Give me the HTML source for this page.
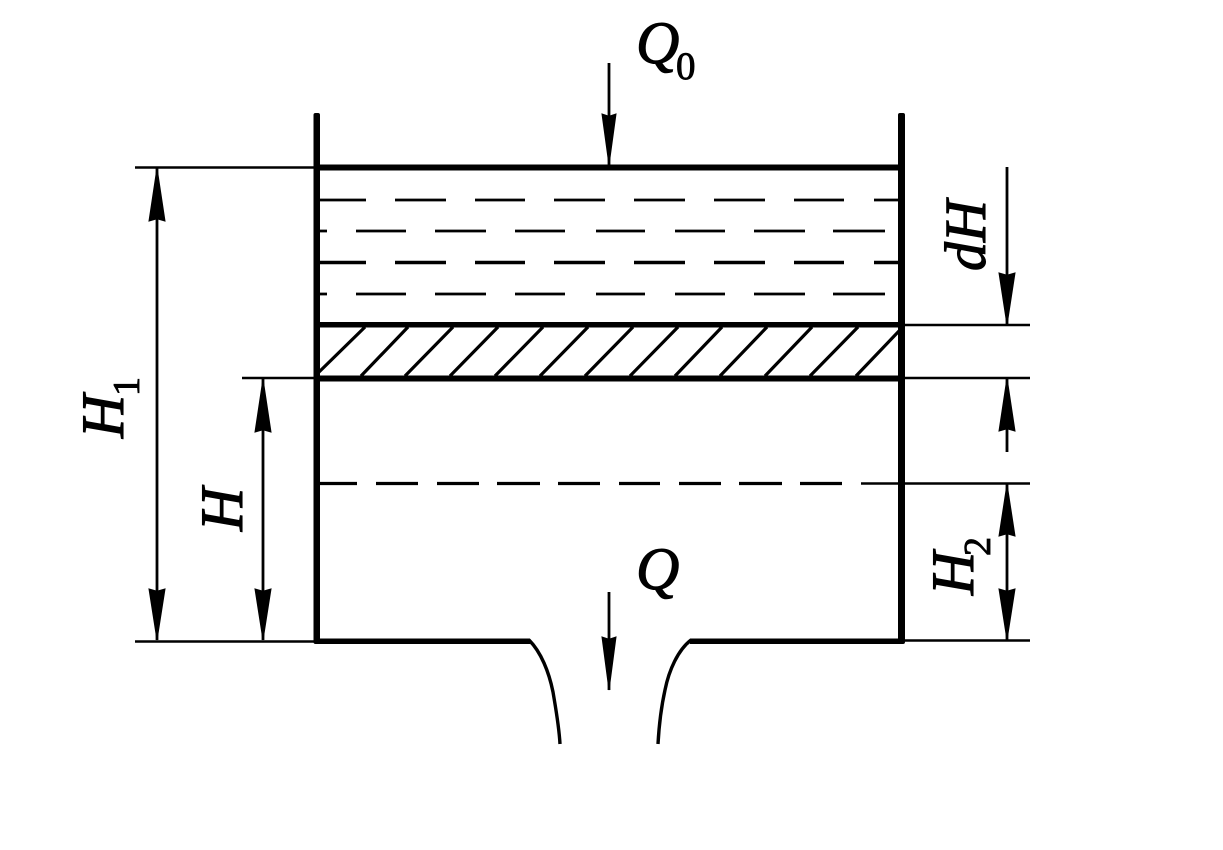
<!DOCTYPE html>
<html>
<head>
<meta charset="utf-8">
<style>
html,body{margin:0;padding:0;background:#fff;width:1223px;height:850px;overflow:hidden}
svg{display:block}
text{font-family:"Liberation Serif",serif;font-style:italic;fill:#000;stroke:#000;stroke-width:1.1px}
.n{font-style:normal;stroke-width:0.9px}
</style>
</head>
<body>
<svg width="1223" height="850" viewBox="0 0 1223 850" xmlns="http://www.w3.org/2000/svg">
<rect width="1223" height="850" fill="#fff"/>

<!-- extension lines -->
<g stroke="#000" stroke-width="2.6" fill="none">
<path d="M135 167.5H316M242 378H316M135 641.5H316"/>
<path d="M905 325H1030M905 378H1030M905 640.5H1030M861 483.5H1030"/>
</g>

<!-- dashed liquid levels -->
<g stroke="#000" stroke-width="2.8" fill="none">
<path d="M320 200H366M395 200H446M475 200H525M554 200H605M634 200H685M714 200H765M794 200H844M874 200H900"/>
<path d="M320 231H327M356 231H406M435 231H486M515 231H565M596 231H645M675 231H725M754 231H805M833 231H885"/>
<path d="M320 262.500H366M395 262.500H446M475 262.500H525M554 262.500H605M634 262.500H685M714 262.500H765M794 262.500H844M874 262.500H900" stroke-width="3.400"/>
<path d="M320 294H327M356 294H406M435 294H486M515 294H565M596 294H645M675 294H725M754 294H805M833 294H885"/>
<path d="M320 483.500H357M376 483.500H418M437 483.500H479M497 483.500H540M558 483.500H600M619 483.500H660M679 483.500H721M739 483.500H782M800 483.500H842" stroke-width="3.200"/>
</g>

<!-- hatch -->
<g stroke="#000" stroke-width="3.200" fill="none">
<path d="M318 373L365 327M361 376L408 327M405 376L453 327M450 376L498 327M495 376L543 327M540 376L588 327M585 376L633 327M630 376L678 327M675 376L722 327M720 376L767 327M765 376L812 327M810 376L858 327M856 376L899 331"/>
</g>

<!-- walls and thick lines -->
<g fill="#000">
<rect x="313.500" y="113" width="6.500" height="531" rx="2"/>
<rect x="898" y="113" width="7" height="531" rx="2"/>
<rect x="316" y="164.500" width="587" height="6"/>
<rect x="316" y="322" width="587" height="5.500"/>
<rect x="316" y="375.500" width="587" height="6"/>
<rect x="316" y="638.500" width="214" height="5.500"/>
<rect x="690" y="638.500" width="213" height="5.500"/>
</g>

<!-- outlet curves -->
<g stroke="#000" stroke-width="3.400" fill="none">
<path d="M529 640C541 652 549 672 553 692C556 710 559 726 560 744"/>
<path d="M691 640C678 650 669 670 665 690C661 708 659 726 658 744"/>
</g>

<!-- dimension shafts -->
<g stroke="#000" stroke-width="2.800" fill="none">
<path d="M157 167V640"/>
<path d="M263 378V640"/>
<path d="M1007 167V325M1007 378V452M1007 484V640"/>
<path d="M609 63V165"/>
<path d="M609 592V690"/>
</g>

<!-- arrowheads -->
<g fill="#000" stroke="#000" stroke-width="1">
<!-- H1 -->
<path d="M157 168L165 221L158 219L156 219L149 221Z"/>
<path d="M157 640L165 589L158 591L156 591L149 589Z"/>
<!-- H -->
<path d="M263 379L271 432L264 430L262 430L255 432Z"/>
<path d="M263 640L271 589L264 591L262 591L255 589Z"/>
<!-- dH -->
<path d="M1007 325L1015 273L1008 275L1006 275L999 273Z"/>
<path d="M1007 378L1015 431L1008 429L1006 429L999 431Z"/>
<!-- H2 -->
<path d="M1007 484L1015 536L1008 534L1006 534L999 536Z"/>
<path d="M1007 640L1015 589L1008 591L1006 591L999 589Z"/>
<!-- Q0 -->
<path d="M609 165L616 114L610 116L608 116L602 114Z"/>
<!-- Q -->
<path d="M609 690L616 637L610 639L608 639L602 637Z"/>
</g>

<!-- labels -->
<text x="636" y="63" font-size="60">Q</text>
<text x="676" y="79" font-size="39" class="n">0</text>
<text x="636" y="589" font-size="60">Q</text>

<text transform="translate(123 438) rotate(-90)" font-size="60">H</text>
<text transform="translate(139 396) rotate(-90)" font-size="38" class="n">1</text>

<text transform="translate(242 531) rotate(-90)" font-size="60">H</text>

<text transform="translate(973 595) rotate(-90)" font-size="60">H</text>
<text transform="translate(990 556) rotate(-90)" font-size="38" class="n">2</text>

<text transform="translate(985 271) rotate(-90)" font-size="58">dH</text>
</svg>
</body>
</html>
